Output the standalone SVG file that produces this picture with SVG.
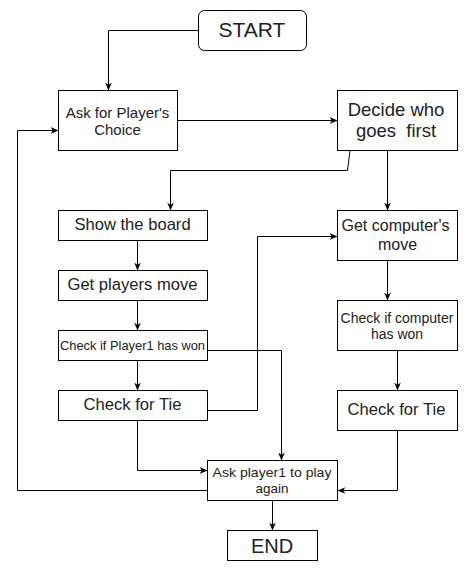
<svg xmlns="http://www.w3.org/2000/svg" width="468" height="571" viewBox="0 0 468 571">
<style>
.box{fill:#ffffff;stroke:#000000;stroke-width:1}
.t{font-family:"Liberation Sans",Arial,sans-serif;fill:#222222;text-anchor:middle}
.c{fill:none;stroke:#000000;stroke-width:1;marker-end:url(#arr)}
</style>
<defs>
<marker id="arr" viewBox="0 0 10 10" refX="10" refY="5" markerWidth="8" markerHeight="8" markerUnits="userSpaceOnUse" orient="auto">
<path d="M0,0.8 L10,5 L0,9.2 L3,5 Z" fill="#000000"/>
</marker>
</defs>
<rect width="468" height="571" fill="#ffffff"/>
<g id="connectors">
<path class="c" d="M198.5,30.5 H108.5 V90.5"/>
<path class="c" d="M177.5,120.5 H337.5"/>
<path class="c" d="M350,150.5 L347.5,170.5 H170.5 V210.5"/>
<path class="c" d="M387.5,150.5 V210.5"/>
<path class="c" d="M137.5,240.5 V270.5"/>
<path class="c" d="M137.5,300.5 V330.5"/>
<path class="c" d="M137.5,360.5 V390.5"/>
<path class="c" d="M207.5,350.5 H281.5 V460.5"/>
<path class="c" d="M207.5,410.5 H257.5 V236.5 H337.5"/>
<path class="c" d="M137.5,420.5 V470.5 H207.5"/>
<path class="c" d="M387.5,260.5 V300.5"/>
<path class="c" d="M397.5,350.5 V390.5"/>
<path class="c" d="M397.5,430.5 V490.5 H337.5"/>
<path class="c" d="M272.5,500.5 V530.5"/>
<path class="c" d="M207.5,490.5 H17.5 V130.5 H58.5"/>
</g>
<g id="start">
<rect class="box" x="198.5" y="10.5" width="108" height="40" rx="6"/>
<text class="t" x="252" y="37" font-size="21">START</text>
</g>
<g id="ask-choice">
<rect class="box" x="58.5" y="90.5" width="119" height="60"/>
<text class="t" x="117.5" y="118" font-size="15">Ask for Player's</text>
<text class="t" x="117.5" y="135" font-size="15">Choice</text>
</g>
<g id="decide">
<rect class="box" x="337.5" y="90.5" width="120" height="60"/>
<text class="t" x="396" y="115.5" font-size="18.5">Decide who</text>
<text class="t" x="396" y="137" font-size="18.5" xml:space="preserve">goes  first</text>
</g>
<g id="show-board">
<rect class="box" x="58.5" y="210.5" width="149" height="30"/>
<text class="t" x="132.5" y="230" font-size="16.6">Show the board</text>
</g>
<g id="get-players-move">
<rect class="box" x="58.5" y="270.5" width="149" height="30"/>
<text class="t" x="132.5" y="290" font-size="16.6">Get players move</text>
</g>
<g id="check-player1">
<rect class="box" x="58.5" y="330.5" width="149" height="30"/>
<text class="t" x="132.5" y="349.5" font-size="13" textLength="145" lengthAdjust="spacingAndGlyphs">Check if Player1 has won</text>
</g>
<g id="tie-left">
<rect class="box" x="58.5" y="390.5" width="149" height="30"/>
<text class="t" x="132.5" y="409.5" font-size="16.6">Check for Tie</text>
</g>
<g id="get-computer-move">
<rect class="box" x="337.5" y="210.5" width="120" height="50"/>
<text class="t" x="395.5" y="230.5" font-size="16">Get computer's</text>
<text class="t" x="397.5" y="250" font-size="16">move</text>
</g>
<g id="check-computer">
<rect class="box" x="337.5" y="300.5" width="120" height="50"/>
<text class="t" x="397" y="322.5" font-size="14">Check if computer</text>
<text class="t" x="397" y="339" font-size="14">has won</text>
</g>
<g id="tie-right">
<rect class="box" x="337.5" y="390.5" width="120" height="40"/>
<text class="t" x="396.5" y="415" font-size="16.6">Check for Tie</text>
</g>
<g id="ask-again">
<rect class="box" x="207.5" y="460.5" width="130" height="40"/>
<text class="t" x="272" y="477" font-size="13.5" textLength="119" lengthAdjust="spacingAndGlyphs">Ask player1 to play</text>
<text class="t" x="272" y="493" font-size="13.5" textLength="33" lengthAdjust="spacingAndGlyphs">again</text>
</g>
<g id="end">
<rect class="box" x="227.5" y="530.5" width="90" height="30"/>
<text class="t" x="272" y="552.5" font-size="20">END</text>
</g>
</svg>
